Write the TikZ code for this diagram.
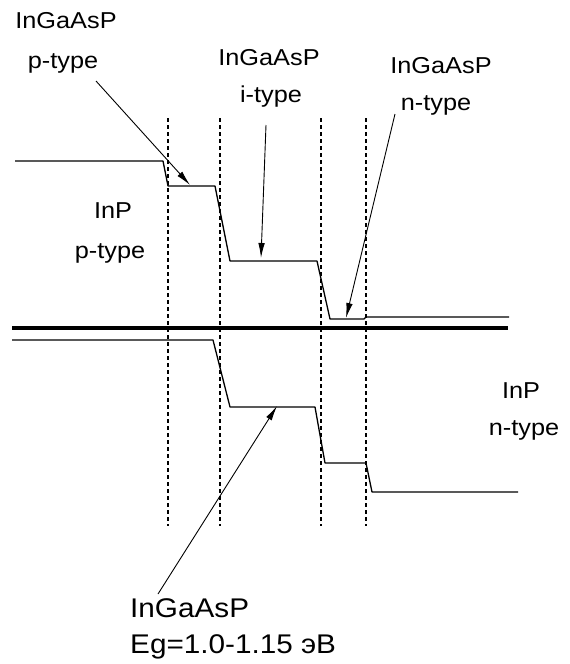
\documentclass[tikz,border=0pt]{standalone}
\usepackage{fontspec}
\setmainfont{Liberation Sans}[FakeStretch=1.1]
\usetikzlibrary{arrows.meta}
\tikzset{
  lbl/.style={inner sep=0pt, anchor=base, font=\fontsize{23}{28}\selectfont},
  biglbl/.style={inner sep=0pt, anchor=base west, font=\fontsize{27}{32}\selectfont},
  band/.style={line width=1.3pt, line join=round},
  gap/.style={line width=3.6pt},
  bound/.style={line width=1.2pt, dash pattern=on 4pt off 3pt},
  ptr/.style={line width=0.9pt, -{Latex[length=15pt,width=6.5pt]}}
}
\begin{document}
\begin{tikzpicture}[x=1pt,y=-1pt]
\useasboundingbox (0,0) rectangle (570,664);
% region boundaries
\foreach \xx in {168,220,321,366} \draw[bound] (\xx,118) -- (\xx,526);
% conduction band
\draw[band] (15,161) -- (163,161) -- (168,186) -- (215,186) -- (230,261) -- (317,261) -- (330,319) -- (364,319) -- (366,317) -- (509,317);
% Fermi / thick line
\draw[gap] (12,328) -- (508,328);
% valence band
\draw[band] (12,340) -- (213,340) -- (230,407) -- (315,407) -- (325,463) -- (366,463) -- (372,492) -- (518,492);
% labels
\node[lbl] (tl1) at (66,28) {InGaAsP};
\node[lbl] (tl2) at (63,68) {p-type};
\node[lbl] (m1) at (269,65) {InGaAsP};
\node[lbl] (m2) at (271,102) {i-type};
\node[lbl] (r1) at (441,73) {InGaAsP};
\node[lbl] (r2) at (436,110) {n-type};
\node[lbl] (pl1) at (113,218) {InP};
\node[lbl] (pl2) at (110,258) {p-type};
\node[lbl] (nr1) at (521,398) {InP};
\node[lbl] (nr2) at (524,435) {n-type};
\node[biglbl] (b1) at (130,617) {InGaAsP};
\node[biglbl] (b2) at (130,653) {Eg=1.0-1.15 эВ};
% arrow ends
\coordinate (s1) at (96,81);   \coordinate (e1) at (190,185);
\coordinate (s2) at (266,125); \coordinate (e2) at (261,258);
\coordinate (s3) at (395,114); \coordinate (e3) at (346,318);
\coordinate (s4) at (158,594); \coordinate (e4) at (277,406);
\draw[ptr] (s1) -- (e1);
\draw[ptr] (s2) -- (e2);
\draw[ptr] (s3) -- (e3);
\draw[ptr] (s4) -- (e4);
\end{tikzpicture}
\end{document}
